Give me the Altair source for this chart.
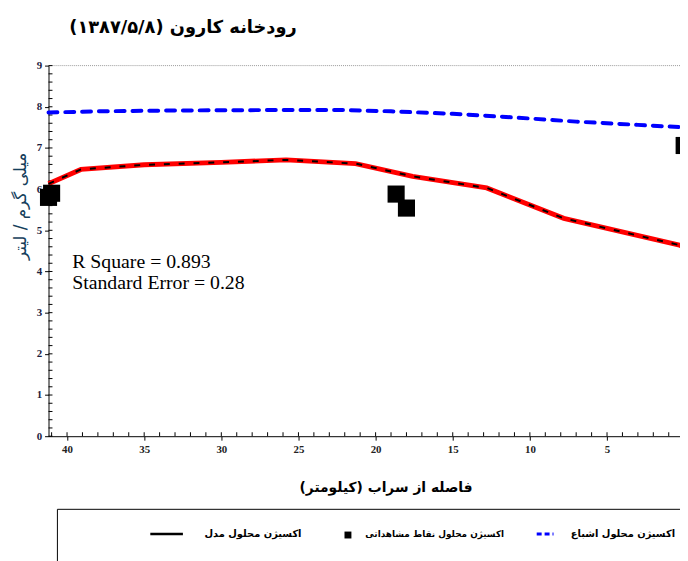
import altair as alt
import pandas as pd
import numpy as np

# ---- data ----
km_model = [41.2, 39.1, 35.0, 30.0, 25.8, 21.3, 17.6, 12.8, 7.8, 0.3, 0.0]
do_model = [6.13, 6.48, 6.59, 6.65, 6.71, 6.62, 6.31, 6.03, 5.29, 4.64, 4.60]

km_sat = [41.2, 38.0, 33.0, 27.0, 22.0, 19.0, 15.0, 11.0, 7.0, 3.0, 0.0]
do_sat = [7.86, 7.89, 7.91, 7.92, 7.92, 7.89, 7.83, 7.74, 7.64, 7.56, 7.50]

km_obs = [41.2, 41.0, 18.67, 18.0, 0.0]
do_obs = [5.80, 5.90, 5.88, 5.54, 7.06]

x_labels = [40, 35, 30, 25, 20, 15, 10, 5]
y_labels = [0, 1, 2, 3, 4, 5, 6, 7, 8, 9]
x_minor = list(range(1, 42))
y_minor = [round(v, 1) for v in np.arange(0, 9.01, 0.2)]

title_txt = "(۱۳۸۷/۵/۸)  رودخانه کارون"
x_title = "\u200fفاصله از سراب (کیلومتر)\u200f"
y_title = "میلی گرم / لیتر"
leg_sat = "اکسیژن محلول اشباع"
leg_obs = "اکسیژن محلول نقاط مشاهداتی"
leg_mod = "اکسیژن محلول مدل"
stat1 = "R Square = 0.893"
stat2 = "Standard Error = 0.28"

W, H = 639, 375
FA = "DejaVu Sans"

xscale = alt.Scale(domain=[41.2, 0.27], nice=False, zero=False)
yscale = alt.Scale(domain=[0, 9], nice=False, zero=False)
xaxis = alt.Axis(values=x_labels, tickSize=4, tickColor="black", domainColor="black",
                 labelFont="Liberation Sans Narrow", labelFontWeight="bold", labelFontSize=11,
                 labelColor="#222", labelPadding=4, grid=False, title=x_title,
                 titleFont=FA, titleFontSize=14, titleFontWeight="bold", titleColor="black",
                 titleX=341, titleY=52, titleAlign="center", titleBaseline="middle")
yaxis = alt.Axis(values=y_labels, tickSize=4, tickColor="black", domainColor="black",
                 labelFont="Liberation Sans Narrow", labelFontWeight="bold", labelFontSize=11,
                 labelColor="#1a2040", labelPadding=3, grid=False, title=y_title,
                 titleFont=FA, titleFontSize=17, titleFontWeight="normal", titleColor="#163f5c",
                 titleX=-28, titleY=142, titleAngle=-90, titleAlign="center", titleBaseline="middle")

def X(f="km"):
    return alt.X(f"{f}:Q", scale=xscale, axis=xaxis)

def Y(f="v"):
    return alt.Y(f"{f}:Q", scale=yscale, axis=yaxis)

model = pd.DataFrame({"km": km_model, "v": do_model})
sat = pd.DataFrame({"km": km_sat, "v": do_sat})
obs = pd.DataFrame({"km": km_obs, "v": do_obs})

top_border = alt.Chart(pd.DataFrame({"v": [9]})).mark_rule(
    color="#999999", strokeDash=[1, 1], strokeWidth=1).encode(y=Y())
yticks = alt.Chart(pd.DataFrame({"v": y_minor})).mark_rule(color="black", strokeWidth=1).encode(
    y=Y(), x=alt.value(0), x2=alt.value(4))
xticks = alt.Chart(pd.DataFrame({"km": x_minor})).mark_rule(color="black", strokeWidth=1).encode(
    x=X(), y=alt.value(H), y2=alt.value(H - 4))

red = alt.Chart(model).mark_line(color="#ff0000", strokeWidth=5).encode(x=X(), y=Y())
blackdash = alt.Chart(model).mark_line(color="black", strokeWidth=2, strokeDash=[6, 9]).encode(x=X(), y=Y())
blue = alt.Chart(sat).mark_line(color="#0000ff", strokeWidth=4, strokeDash=[9, 8], strokeCap="round").encode(
    x=X(), y=Y())
pts = alt.Chart(obs).mark_square(size=300, color="black", opacity=1, filled=True).encode(x=X(), y=Y())

def txt(t, x, y, **kw):
    return alt.Chart(pd.DataFrame({"t": [t]})).mark_text(**kw).encode(
        text="t:N", x=alt.value(x), y=alt.value(y))

title = txt(title_txt, 21, -38, font=FA, fontSize=18, fontWeight="bold", align="left",
            baseline="middle", color="black")
s1 = txt(stat1, 24, 205, font="Liberation Serif", fontSize=20, align="left",
         baseline="alphabetic", color="black")
s2 = txt(stat2, 24, 226, font="Liberation Serif", fontSize=20, align="left",
         baseline="alphabetic", color="black")

one = pd.DataFrame({"a": [0]})
leg_box = alt.Chart(one).mark_rect(fill="white", fillOpacity=0, stroke="black", strokeWidth=1).encode(
    x=alt.value(9), x2=alt.value(720), y=alt.value(449), y2=alt.value(540))
leg_blue = alt.Chart(one).mark_rule(color="#0000ff", strokeWidth=3, strokeDash=[5, 3]).encode(
    x=alt.value(494), x2=alt.value(511), y=alt.value(474))
leg_sq = alt.Chart(one).mark_square(size=49, color="black", opacity=1, filled=True).encode(
    x=alt.value(303), y=alt.value(475))
leg_line = alt.Chart(one).mark_rule(color="black", strokeWidth=2.5).encode(
    x=alt.value(103), x2=alt.value(136), y=alt.value(474))
lt1 = txt(leg_sat, 634, 474, font=FA, fontSize=10, fontWeight="bold", align="right", baseline="middle", color="black")
lt2 = txt(leg_obs, 461, 474, font=FA, fontSize=9, fontWeight="bold", align="right", baseline="middle", color="black")
lt3 = txt(leg_mod, 256, 474, font=FA, fontSize=10, fontWeight="bold", align="right", baseline="middle", color="black")

chart = alt.layer(
    top_border, yticks, xticks, red, blackdash, blue, pts,
    title, s1, s2, leg_box, leg_blue, leg_sq, leg_line, lt1, lt2, lt3
).properties(
    width=W, height=H,
    padding={"left": 41, "top": 55, "right": 0, "bottom": 123},
    autosize=alt.AutoSizeParams(type="none"),
    background="white",
).configure_view(stroke=None)

chart.save("out.html", embed_options={"renderer": "svg", "actions": False})
